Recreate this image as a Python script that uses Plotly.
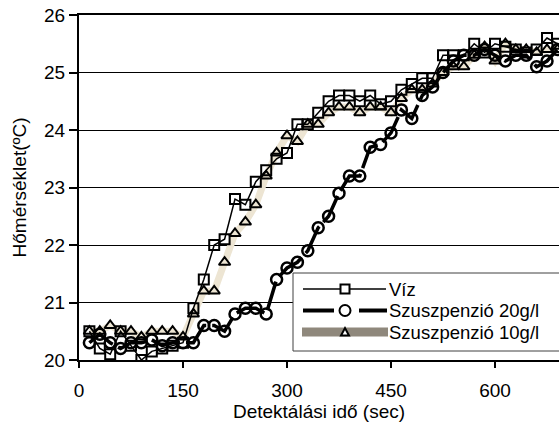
import plotly.graph_objects as go

# time (sec)
t = [15 * i for i in range(1, 47)]

viz = [20.5, 20.2, 20.1, 20.5, 20.25, 20.0, 20.15, 20.2, 20.25, 20.3,
       20.9, 21.4, 22.0, 22.1, 22.8, 22.7, 23.1, 23.3, 23.5, 23.6,
       24.1, 24.1, 24.3, 24.5, 24.6, 24.6, 24.5, 24.6, 24.45, 24.5,
       24.7, 24.8, 24.9, 24.9, 25.3, 25.3, 25.3, 25.5, 25.35, 25.5,
       25.45, 25.4, 25.35, 25.4, 25.6, 25.5]

sz20 = [20.3, 20.45, 20.3, 20.2, 20.3, 20.3, 20.35, 20.25, 20.3, 20.3,
        20.3, 20.6, 20.6, 20.5, 20.8, 20.9, 20.9, 20.8, 21.4, 21.6,
        21.7, 21.9, 22.3, 22.5, 22.9, 23.2, 23.2, 23.7, 23.75, 23.95,
        24.35, 24.2, 24.6, 24.75, 25.0, 25.2, 25.3, 25.3, 25.4, 25.3,
        25.2, 25.3, 25.3, 25.1, 25.2, 25.4]

sz10 = [20.5, 20.5, 20.6, 20.5, 20.5, 20.4, 20.5, 20.5, 20.5, 20.4,
        20.8, 21.2, 21.2, 21.7, 22.2, 22.4, 22.7, 23.2, 23.6, 23.9,
        23.8, 24.1, 24.1, 24.3, 24.4, 24.4, 24.3, 24.4, 24.4, 24.3,
        24.55, 24.7, 24.7, 24.8, 25.0, 25.1, 25.1, 25.3, 25.45, 25.2,
        25.5, 25.4, 25.4, 25.35, 25.4, 25.4]

names = ["Víz", "Szuszpenzió 20g/l", "Szuszpenzió 10g/l"]
x_ticks = [0, 150, 300, 450, 600]

FONT = "Liberation Sans, Arial, sans-serif"
BEIGE = "#EDE5D3"
fig = go.Figure()

# 10 g/l: beige thick line (drawn first, under others)
fig.add_trace(go.Scatter(
    x=t, y=sz10, mode="lines+markers", name=names[2],
    line=dict(color=BEIGE, width=7),
    marker=dict(symbol="triangle-up-open", size=10, color="black",
                line=dict(width=2, color="black"))))

fig.add_trace(go.Scatter(
    x=t, y=viz, mode="lines+markers", name=names[0],
    line=dict(color="black", width=1.5),
    marker=dict(symbol="square-open", size=10, color="black",
                line=dict(width=2, color="black"))))

fig.add_trace(go.Scatter(
    x=t, y=sz20, mode="lines+markers", name=names[1],
    line=dict(color="black", width=3.5, dash="30px,6px"),
    marker=dict(symbol="circle-open", size=11, color="black",
                line=dict(width=2.5, color="black"))))

# ---- custom legend (drawn in paper coordinates) ----
L, T, W, H = 79, 15, 480, 345   # plot area in px


def px(v):
    return (v - L) / W


def py(v):
    return (T + H - v) / H


shapes = []
annotations = []
shapes.append(dict(type="rect", xref="paper", yref="paper",
                   x0=px(293), x1=px(562), y0=py(273), y1=py(351),
                   fillcolor="white", line=dict(color="#404040", width=1)))
rows = [289, 310.5, 332]
mx = 345
# Víz
shapes.append(dict(type="line", xref="paper", yref="paper",
                   x0=px(303), x1=px(386), y0=py(rows[0]), y1=py(rows[0]),
                   line=dict(color="black", width=1.5)))
shapes.append(dict(type="rect", xref="paper", yref="paper",
                   x0=px(mx - 4.5), x1=px(mx + 4.5), y0=py(rows[0] + 4.5), y1=py(rows[0] - 4.5),
                   fillcolor="white", line=dict(color="black", width=2)))
# 20 g/l
shapes.append(dict(type="line", xref="paper", yref="paper",
                   x0=px(303), x1=px(334), y0=py(rows[1]), y1=py(rows[1]),
                   line=dict(color="black", width=4)))
shapes.append(dict(type="line", xref="paper", yref="paper",
                   x0=px(359), x1=px(387), y0=py(rows[1]), y1=py(rows[1]),
                   line=dict(color="black", width=4)))
shapes.append(dict(type="circle", xref="paper", yref="paper",
                   x0=px(mx - 5.5), x1=px(mx + 5.5), y0=py(rows[1] + 5.5), y1=py(rows[1] - 5.5),
                   fillcolor="white", line=dict(color="black", width=2)))
# 10 g/l
shapes.append(dict(type="rect", xref="paper", yref="paper",
                   x0=px(302), x1=px(388), y0=py(rows[2] + 4.5), y1=py(rows[2] - 4.5),
                   fillcolor="#8F887C", line=dict(width=0)))
shapes.append(dict(type="path", xref="paper", yref="paper",
                   path="M{:.5f},{:.5f} L{:.5f},{:.5f} L{:.5f},{:.5f} Z".format(
                       px(mx - 4), py(rows[2] + 3.5), px(mx + 4), py(rows[2] + 3.5),
                       px(mx), py(rows[2] - 4)),
                   fillcolor="white", line=dict(color="black", width=2)))
for name, r in zip(names, rows):
    annotations.append(dict(text=name, xref="paper", yref="paper",
                            x=px(388), y=py(r), xanchor="left", yanchor="middle",
                            showarrow=False, borderpad=0,
                            font=dict(size=18.5, color="black")))

fig.update_layout(
    width=559, height=425,
    margin=dict(l=79, r=0, t=15, b=65),
    paper_bgcolor="white", plot_bgcolor="white",
    font=dict(family=FONT, size=19, color="black"),
    showlegend=False,
    shapes=shapes, annotations=annotations,
)
fig.update_xaxes(range=[0, 692.3], tickvals=x_ticks, ticktext=[str(v) for v in x_ticks],
                 showline=True, linecolor="black", linewidth=2, mirror=True,
                 ticks="outside", ticklen=6, tickcolor="black", tickwidth=1.5,
                 ticklabelstandoff=6,
                 showgrid=False, zeroline=False,
                 title=dict(text="Detektálási idő (sec)", standoff=0,
                            font=dict(size=19)))
fig.update_yaxes(range=[20, 26], dtick=1,
                 showline=True, linecolor="black", linewidth=2,
                 ticks="outside", ticklen=8, tickcolor="black", tickwidth=1.5,
                 showgrid=True, gridcolor="black", gridwidth=1, zeroline=False,
                 title=dict(text="Hőmérséklet(ºC)", standoff=12,
                            font=dict(size=19)))

fig.write_html("out.html")
